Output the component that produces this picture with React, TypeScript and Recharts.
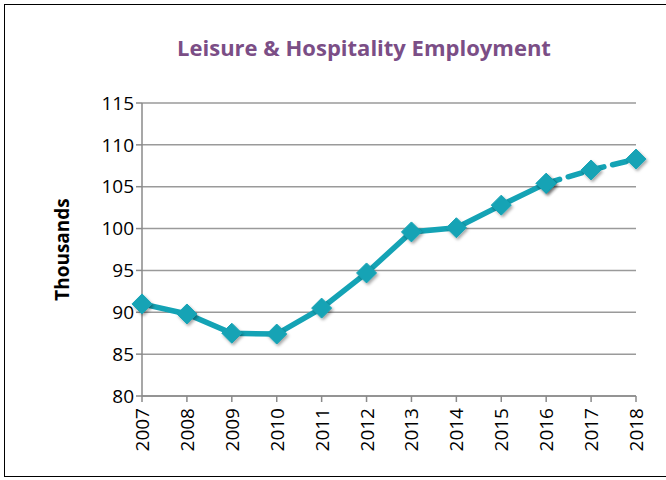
import React from "react";
import { LineChart, Line, XAxis, YAxis, CartesianGrid, Label } from "recharts";

const years = ["2007","2008","2009","2010","2011","2012","2013","2014","2015","2016","2017","2018"];
const actual: (number | null)[] = [91.0, 89.8, 87.5, 87.4, 90.5, 94.7, 99.6, 100.1, 102.8, 105.4, null, null];
const projected: (number | null)[] = [null, null, null, null, null, null, null, null, null, 105.4, 107.0, 108.3];
const yTicks = [80, 85, 90, 95, 100, 105, 110, 115];

const data = years.map((y, i) => ({ year: y, actual: actual[i], projected: projected[i] }));

const COLOR = "#14A3B5";
const FONT = "'Open Sans', 'Liberation Sans', sans-serif";

const Diamond = (props: any) => {
  const { cx, cy, value, index } = props;
  if (value == null || cx == null || cy == null) return <g key={index} />;
  const r = 10;
  return (
    <path
      key={index}
      d={`M${cx},${cy - r} L${cx + r},${cy} L${cx},${cy + r} L${cx - r},${cy} Z`}
      fill={COLOR}
      stroke={COLOR}
      strokeWidth={1}
      filter="url(#shadow)"
    />
  );
};

const XTick = (props: any) => {
  const { x, y, payload } = props;
  return (
    <text
      x={x}
      y={y}
      transform={`rotate(-90, ${x}, ${y})`}
      textAnchor="end"
      dominantBaseline="central"
      fontSize={19}
      fontFamily={FONT}
      fill="#000"
      dx={-4}
    >
      {payload.value}
    </text>
  );
};

export default function App() {
  return (
    <div style={{ position: "absolute", left: 0, top: 0, width: 666, height: 480, background: "#fff" }}>
      <div style={{ position: "absolute", left: 4, top: 4, width: 670, height: 473, border: "1.5px solid #000", boxSizing: "border-box" }} />
      <div style={{ position: "absolute", left: 0, top: 32, width: 728, textAlign: "center", fontFamily: FONT, fontWeight: 700, fontSize: 22, color: "#7B4E86" }}>
        Leisure &amp; Hospitality Employment
      </div>
      <div style={{ position: "absolute", left: 0, top: 0 }}>
        <LineChart width={666} height={480} data={data} margin={{ top: 103, right: 30, bottom: 0, left: 142 - 60 }}>
          <defs>
            <filter id="shadow" x="-50%" y="-50%" width="200%" height="200%">
              <feDropShadow dx="1.5" dy="2" stdDeviation="1.5" floodColor="#000" floodOpacity="0.35" />
            </filter>
          </defs>
          <CartesianGrid vertical={false} stroke="#9a9a9a" strokeWidth={1.5} />
          <XAxis
            dataKey="year"
            stroke="#8a8a8a"
            strokeWidth={1.5}
            tickLine={{ stroke: "#8a8a8a", strokeWidth: 1.5 }}
            tickSize={6}
            interval={0}
            tick={<XTick />}
            height={84}
          />
          <YAxis
            domain={[80, 115]}
            ticks={yTicks}
            width={60}
            stroke="#8a8a8a"
            strokeWidth={1.5}
            tickLine={{ stroke: "#8a8a8a", strokeWidth: 1.5 }}
            tickSize={6}
            tick={{ fontSize: 19, fill: "#000", fontFamily: FONT }}
          >
            <Label
              value="Thousands"
              angle={-90}
              position="insideLeft"
              offset={-20}
              style={{ fontSize: 19, fontWeight: 700, fill: "#000", fontFamily: FONT, textAnchor: "middle" }}
            />
          </YAxis>
          <Line
            type="linear"
            dataKey="actual"
            stroke={COLOR}
            strokeWidth={5.5}
            dot={<Diamond />}
            activeDot={false}
            connectNulls={false}
            isAnimationActive={false}
          />
          <Line
            type="linear"
            dataKey="projected"
            stroke={COLOR}
            strokeWidth={5.5}
            strokeDasharray="14 9"
            strokeLinecap="round"
            dot={<Diamond />}
            activeDot={false}
            connectNulls={false}
            isAnimationActive={false}
          />
        </LineChart>
      </div>
    </div>
  );
}
